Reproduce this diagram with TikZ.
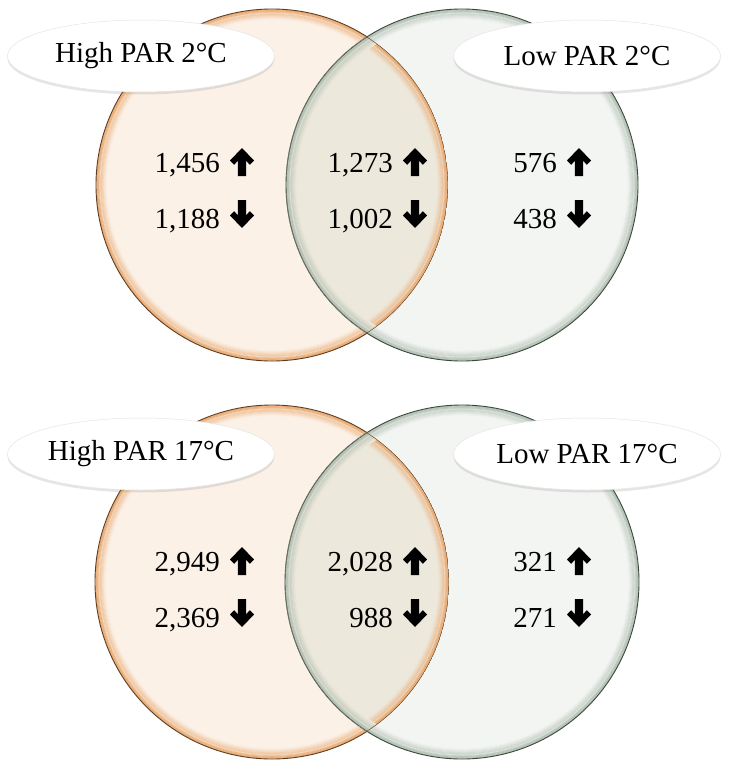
\documentclass[tikz,border=0pt]{standalone}
\usepackage{fontspec}
\setmainfont{Liberation Serif}
\usetikzlibrary{shapes.geometric,shadows}
\definecolor{peach}{HTML}{FBF1E7}
\definecolor{orim}{HTML}{E6A062}
\definecolor{oedge}{HTML}{5E3E22}
\definecolor{sage}{HTML}{F3F5F2}
\definecolor{grim}{HTML}{A9B8AA}
\definecolor{gedge}{HTML}{3C483D}
\definecolor{ovl}{HTML}{EDE8DC}
\newcommand\vennrim[4]{% center, radius, fill, rim
  \foreach \i in {0,...,11}{%
    \pgfmathtruncatemacro\p{max(0,90-\i*8)}%
    \draw[line width=1.1pt, draw={#4!\p!#3}] #1 circle[radius=#2-0.8-\i*0.9];
  }%
  \draw[line width=1.2pt, white, opacity=0.3] #1 circle[radius=#2-4];
}
\tikzset{
  lab/.style={ellipse, fill=white, draw=black!10, line width=0.5pt,
    minimum width=267pt, minimum height=72pt, inner sep=0pt,
    font=\fontsize{29}{34}\selectfont,
    drop shadow={opacity=0.2, shadow xshift=0pt, shadow yshift=-2.5pt}},
  num/.style={anchor=base east, inner sep=0pt, font=\fontsize{29}{34}\selectfont},
  oedgeline/.style={draw=oedge, line width=0.9pt},
  gedgeline/.style={draw=gedge, line width=0.9pt},
  pics/uparr/.style={code={\fill[black] (0,-14) -- (12,-1.5) -- (7.8,2.8) -- (4.2,-1.2) -- (4.2,14) -- (-4.2,14) -- (-4.2,-1.2) -- (-7.8,2.8) -- (-12,-1.5) -- cycle;}},
  pics/dnarr/.style={code={\fill[black] (0,14) -- (12,1.5) -- (7.8,-2.8) -- (4.2,1.2) -- (4.2,-14) -- (-4.2,-14) -- (-4.2,1.2) -- (-7.8,-2.8) -- (-12,1.5) -- cycle;}},
}
\newcommand\venntwo[3]{% left center, right center, radius
  \fill[peach] #1 circle[radius=#3];
  \vennrim{#1}{#3}{peach}{orim}
  \draw[oedgeline] #1 circle[radius=#3];
  \fill[sage] #2 circle[radius=#3];
  \vennrim{#2}{#3}{sage}{grim}
  \draw[gedgeline] #2 circle[radius=#3];
  \begin{scope}
    \clip #1 circle[radius=#3];
    \clip #2 circle[radius=#3];
    \fill[ovl] #1 circle[radius=#3];
    \vennrim{#1}{#3}{ovl}{orim}
    \vennrim{#2}{#3}{ovl}{grim}
    \draw[oedgeline] #1 circle[radius=#3];
    \draw[gedgeline] #2 circle[radius=#3];
  \end{scope}
}
\begin{document}
\begin{tikzpicture}[x=1pt,y=-1pt]
\useasboundingbox (0,0) rectangle (730,768);
\fill[white] (0,0) rectangle (730,768);
% top diagram
\coordinate (TL) at (272,185);
\coordinate (TR) at (462,185);
\venntwo{(TL)}{(TR)}{176}
% bottom diagram
\coordinate (BL) at (272,582);
\coordinate (BR) at (462,582);
\venntwo{(BL)}{(BR)}{177}
% labels
\node[lab] (hp2) at (141,56) {High PAR 2°C};
\node[lab] (lp2) at (587,56) {Low PAR 2°C};
\node[lab] (hp17) at (141,454) {High PAR 17°C};
\node[lab] (lp17) at (587,454) {Low PAR 17°C};
% numbers top
\node[num] (a1) at (220,172) {1,456};
\node[num] (a2) at (220,228) {1,188};
\node[num] (b1) at (393,172) {1,273};
\node[num] (b2) at (393,228) {1,002};
\node[num] (c1) at (557,172) {576};
\node[num] (c2) at (557,228) {438};
% numbers bottom
\node[num] (d1) at (220,571) {2,949};
\node[num] (d2) at (220,627) {2,369};
\node[num] (e1) at (393,571) {2,028};
\node[num] (e2) at (393,627) {988};
\node[num] (f1) at (557,571) {321};
\node[num] (f2) at (557,627) {271};
% arrows
\foreach \n in {a1,b1,c1,d1,e1,f1}{\pic at ([shift={(22,-10)}]\n.base east) {uparr};}
\foreach \n in {a2,b2,c2,d2,e2,f2}{\pic at ([shift={(22,-14)}]\n.base east) {dnarr};}
\end{tikzpicture}
\end{document}
